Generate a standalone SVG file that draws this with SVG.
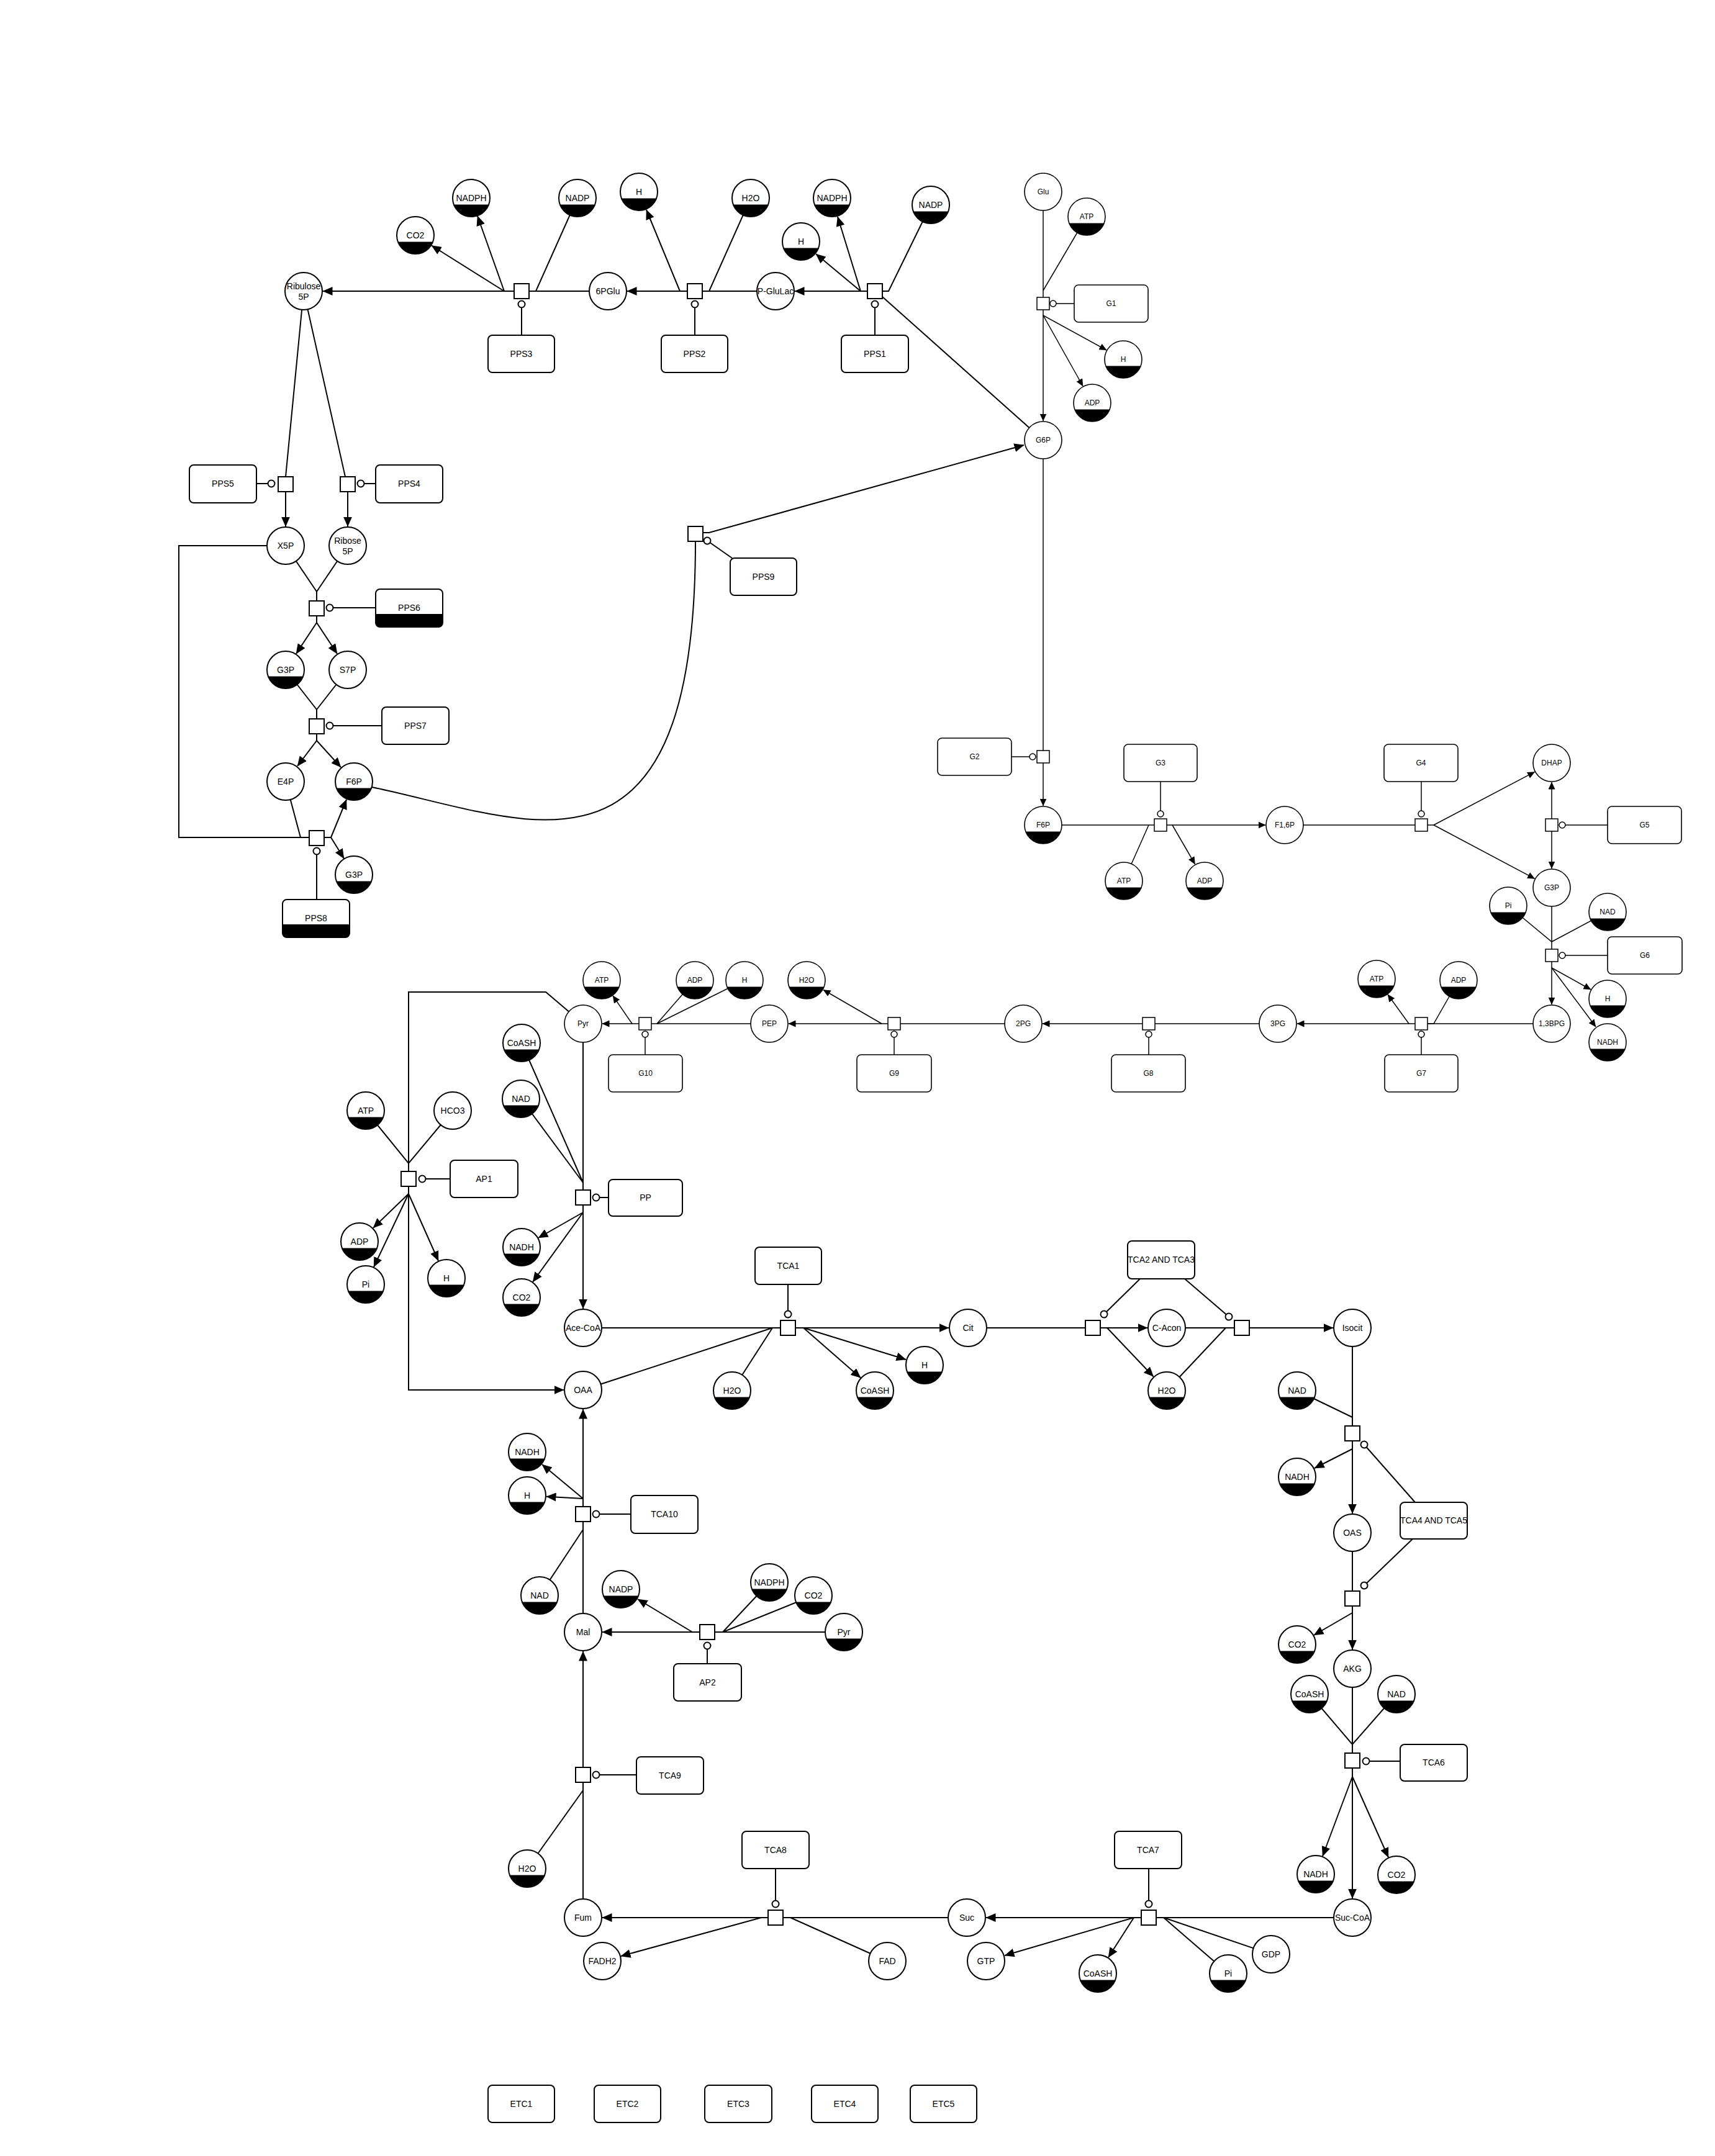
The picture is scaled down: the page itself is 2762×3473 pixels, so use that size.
<svg xmlns="http://www.w3.org/2000/svg" xmlns:xlink="http://www.w3.org/1999/xlink" width="2762" height="3473" viewBox="0 0 2762 3473">
<style>
.ln path{fill:none;stroke:#000;stroke-width:2}
.ln path.g{stroke-width:1.5}
.ar{marker-end:url(#A)}
.as{marker-end:url(#S)}
.mo{marker-end:url(#M)}
.mg{marker-end:url(#Mg)}
.sq{fill:#fff;stroke:#000;stroke-width:2}
.sqg{fill:#fff;stroke:#000;stroke-width:1.5}
.rc{fill:#fff;stroke:#000;stroke-width:2}
.rg{fill:#fff;stroke:#000;stroke-width:1.6}
text{font-family:"Liberation Sans",Arial,sans-serif;font-size:14px;text-anchor:middle;fill:#000}
text.g{font-size:12px}
</style>
<defs>
<marker id="A" markerUnits="userSpaceOnUse" markerWidth="16" markerHeight="14" refX="15.5" refY="7" orient="auto"><path d="M0,0L16,7L0,14Z" fill="#000"/></marker>
<marker id="S" markerUnits="userSpaceOnUse" markerWidth="12" markerHeight="11" refX="11.5" refY="5.5" orient="auto"><path d="M0,0L12,5.5L0,11Z" fill="#000"/></marker>
<marker id="M" markerUnits="userSpaceOnUse" markerWidth="16" markerHeight="16" refX="8" refY="8" orient="auto"><circle cx="8" cy="8" r="5.5" fill="#fff" stroke="#000" stroke-width="2"/></marker>
<marker id="Mg" markerUnits="userSpaceOnUse" markerWidth="16" markerHeight="16" refX="8" refY="8" orient="auto"><circle cx="8" cy="8" r="5" fill="#fff" stroke="#000" stroke-width="1.5"/></marker>
<g id="hc"><circle r="30" fill="#fff"/><path d="M-28.1,10.5A30,30 0 0 0 28.1,10.5Z" fill="#000"/><circle r="30" fill="none" stroke="#000" stroke-width="2"/></g>
<g id="wc"><circle r="30" fill="#fff" stroke="#000" stroke-width="2"/></g>
<g id="hcg"><circle r="30" fill="#fff"/><path d="M-28.1,10.5A30,30 0 0 0 28.1,10.5Z" fill="#000"/><circle r="30" fill="none" stroke="#000" stroke-width="1.6"/></g>
<g id="wcg"><circle r="30" fill="#fff" stroke="#000" stroke-width="1.6"/></g>
</defs>
<rect width="2762" height="3473" fill="#fff"/>

<g id="connectors" class="ln">
<!-- PPS3 -->
<path class="ar" d="M828,469H520"/>
<path d="M979,469H852"/>
<path class="ar" d="M812,469L695,395.5"/>
<path class="ar" d="M812,469L769,348"/>
<path d="M930,319L863,469H852"/>
<!-- PPS2 -->
<path class="ar" d="M1107,469H1010"/>
<path d="M1249,469H1131"/>
<path class="ar" d="M1095,469L1041,338"/>
<path d="M1209,319L1142,469H1131"/>
<!-- PPS1 -->
<path class="ar" d="M1397,469H1280"/>
<path class="ar" d="M1386,469L1314,409"/>
<path class="ar" d="M1386,469L1349,349"/>
<path d="M1499,330L1431,469H1421"/>
<path d="M1680,709L1421,478"/>
<!-- G1 -->
<path class="g" d="M1680,309V479"/>
<path class="g" d="M1750,349L1680,468"/>
<path class="g as" d="M1680,499V678"/>
<path class="g as" d="M1680,508L1782,564"/>
<path class="g as" d="M1680,508L1744,622"/>
<!-- PPS9 -->
<path d="M599,1268C850,1320 1120,1460 1120,872"/>
<path class="ar" d="M1132,858H1142L1649,717"/>
<!-- PPS5 / PPS4 -->
<path d="M489,469L460,768"/>
<path d="M489,469L556,768"/>
<path class="ar" d="M460,792V848"/>
<path class="ar" d="M560,792V848"/>
<!-- PPS6 -->
<path d="M460,879L510,953L560,879M510,953V968"/>
<path d="M510,992V1003"/>
<path class="ar" d="M510,1003L477,1053"/>
<path class="ar" d="M510,1003L543,1053"/>
<!-- PPS7 -->
<path d="M460,1079L510,1143L560,1079M510,1143V1158"/>
<path d="M510,1182V1193"/>
<path class="ar" d="M510,1193L479,1234"/>
<path class="ar" d="M510,1193L549,1236"/>
<!-- PPS8 -->
<path d="M460,1259L484,1349H498"/>
<path d="M460,879H288V1349H484"/>
<path d="M522,1349H533"/>
<path class="ar" d="M533,1349L558,1288"/>
<path class="ar" d="M533,1349L554,1383"/>
<!-- G2 -->
<path class="g" d="M1680,709V1209"/>
<path class="g as" d="M1680,1229V1298"/>
<!-- G3 -->
<path class="g" d="M1680,1329H1859"/>
<path class="g" d="M1810,1419L1850,1329"/>
<path class="g as" d="M1879,1329H2038"/>
<path class="g as" d="M1888,1329L1924.5,1392"/>
<!-- G4 -->
<path class="g" d="M2069,1329H2279"/>
<path class="g" d="M2299,1329H2309"/>
<path class="g as" d="M2309,1329L2471.6,1243.4"/>
<path class="g as" d="M2309,1329L2471.6,1415.4"/>
<!-- G5 -->
<path class="g as" d="M2499,1319V1260"/>
<path class="g as" d="M2499,1339V1399"/>
<!-- G6 -->
<path class="g" d="M2499,1430V1529"/>
<path class="g" d="M2429,1459L2499,1517L2589,1469"/>
<path class="g as" d="M2499,1549V1618"/>
<path class="g as" d="M2499,1559L2562,1594"/>
<path class="g as" d="M2499,1559L2570,1654"/>
<!-- G7 -->
<path class="g" d="M2499,1649H2299"/>
<path class="g" d="M2349,1579L2309,1649H2299"/>
<path class="g as" d="M2279,1649H2089"/>
<path class="g as" d="M2269,1649L2235,1602"/>
<!-- G8 -->
<path class="g" d="M2058,1649H1860"/>
<path class="g as" d="M1840,1649H1679"/>
<!-- G9 -->
<path class="g" d="M1648,1649H1450"/>
<path class="g as" d="M1430,1649H1270"/>
<path class="g as" d="M1420,1649L1326,1594.5"/>
<!-- G10 -->
<path class="g" d="M1239,1649H1049"/>
<path class="g" d="M1119,1579L1058,1649"/>
<path class="g" d="M1199,1579L1058,1649"/>
<path class="g as" d="M1029,1649H970"/>
<path class="g as" d="M1018,1649L987,1604"/>
<!-- AP1 -->
<path d="M939,1649L879,1598H658V1887"/>
<path d="M589,1789L658,1874L729,1789"/>
<path class="ar" d="M658,1911V2239H908"/>
<path class="ar" d="M658,1923L601,1978"/>
<path class="ar" d="M658,1923L602,2041"/>
<path class="ar" d="M658,1923L706,2031"/>
<!-- PP -->
<path d="M939,1649V1917"/>
<path d="M840,1680L939,1905"/>
<path d="M839,1770L939,1905"/>
<path class="ar" d="M939,1941V2108"/>
<path class="ar" d="M939,1953L867,1994"/>
<path class="ar" d="M939,1953L858,2065"/>
<!-- TCA1 -->
<path d="M939,2139H1257"/>
<path d="M939,2239L1244,2139"/>
<path d="M1179,2240L1244,2139"/>
<path class="ar" d="M1281,2139H1528"/>
<path class="ar" d="M1294,2139L1386,2219.5"/>
<path class="ar" d="M1294,2139L1459,2190"/>
<!-- TCA2 / TCA3 -->
<path d="M1559,2139H1748"/>
<path class="ar" d="M1772,2139H1848"/>
<path class="ar" d="M1783,2139L1857.6,2217.5"/>
<path d="M1879,2139H1988"/>
<path d="M1879,2240L1974,2139"/>
<path class="ar" d="M2012,2139H2147"/>
<!-- TCA4 -->
<path d="M2178,2139V2297"/>
<path d="M2089,2240L2178,2283"/>
<path class="ar" d="M2178,2321V2438"/>
<path class="ar" d="M2178,2334L2117,2365"/>
<!-- TCA5 -->
<path d="M2178,2469V2563"/>
<path class="ar" d="M2178,2587V2657"/>
<path class="ar" d="M2178,2598L2116,2634"/>
<!-- TCA6 -->
<path d="M2178,2688V2824"/>
<path d="M2109,2729L2178,2810L2249,2729"/>
<path class="ar" d="M2178,2848V3058"/>
<path class="ar" d="M2178,2862L2130,2990"/>
<path class="ar" d="M2178,2862L2236,2992"/>
<!-- TCA7 -->
<path d="M2178,3089H1862"/>
<path d="M1978,3179L1874,3089"/>
<path d="M2047,3148L1874,3089"/>
<path class="ar" d="M1838,3089H1588"/>
<path class="ar" d="M1826,3089L1618,3150"/>
<path class="ar" d="M1826,3089L1785,3153"/>
<!-- TCA8 -->
<path d="M1557,3089H1261"/>
<path d="M1429,3159L1273,3089"/>
<path class="ar" d="M1237,3089H970"/>
<path class="ar" d="M1226,3089L1000,3151"/>
<!-- TCA9 -->
<path d="M939,3089V2871"/>
<path d="M849,3010L939,2884"/>
<path class="ar" d="M939,2847V2660"/>
<!-- AP2 -->
<path d="M1359,2629H1151"/>
<path d="M1239,2549L1164,2629"/>
<path d="M1310,2570L1164,2629"/>
<path class="ar" d="M1127,2629H970"/>
<path class="ar" d="M1115,2629L1027,2576"/>
<!-- TCA10 -->
<path d="M939,2629V2451"/>
<path d="M869,2570L939,2464"/>
<path class="ar" d="M939,2427V2270"/>
<path class="ar" d="M939,2414L873,2359"/>
<path class="ar" d="M939,2414L880,2410.7"/>
<!-- modulation -->
<path class="mo" d="M840,540V490"/>
<path class="mo" d="M1119,540V490"/>
<path class="mo" d="M1409,540V490"/>
<path class="g mg" d="M1730,489H1696"/>
<path class="mo" d="M1179,899L1139,871"/>
<path class="mo" d="M413,779H437"/>
<path class="mo" d="M605,779H581"/>
<path class="mo" d="M605,979H531"/>
<path class="mo" d="M615,1169H531"/>
<path class="mo" d="M510,1449V1371"/>
<path class="g mg" d="M1629,1219H1663"/>
<path class="g mg" d="M1869,1259V1311"/>
<path class="g mg" d="M2289,1259V1311"/>
<path class="g mg" d="M2589,1329H2516"/>
<path class="g mg" d="M2589,1539H2516"/>
<path class="g mg" d="M2289,1699V1666"/>
<path class="g mg" d="M1850,1699V1666"/>
<path class="g mg" d="M1440,1699V1666"/>
<path class="g mg" d="M1039,1699V1666"/>
<path class="mo" d="M725,1899H680"/>
<path class="mo" d="M980,1929H960"/>
<path class="mo" d="M1269,2069V2117"/>
<path class="mo" d="M1836,2060L1778,2117"/>
<path class="mo" d="M1908,2060L1979,2121"/>
<path class="mo" d="M2279,2420L2197,2327"/>
<path class="mo" d="M2275,2479L2197,2554"/>
<path class="mo" d="M2255,2837H2200"/>
<path class="mo" d="M1850,3010V3067"/>
<path class="mo" d="M1249,3010V3067"/>
<path class="mo" d="M1025,2859H960"/>
<path class="mo" d="M1139,2680V2651"/>
<path class="mo" d="M1016,2439H960"/>
</g>

<g id="processes">
<g id="p_pps3"><rect class="sq" x="828" y="457" width="24" height="24"/></g>
<g id="p_pps2"><rect class="sq" x="1107" y="457" width="24" height="24"/></g>
<g id="p_pps1"><rect class="sq" x="1397" y="457" width="24" height="24"/></g>
<g id="p_g1"><rect class="sqg" x="1670" y="479" width="20" height="20"/></g>
<g id="p_pps9"><rect class="sq" x="1108" y="848" width="24" height="24"/></g>
<g id="p_pps5"><rect class="sq" x="448" y="768" width="24" height="24"/></g>
<g id="p_pps4"><rect class="sq" x="548" y="768" width="24" height="24"/></g>
<g id="p_pps6"><rect class="sq" x="498" y="968" width="24" height="24"/></g>
<g id="p_pps7"><rect class="sq" x="498" y="1158" width="24" height="24"/></g>
<g id="p_pps8"><rect class="sq" x="498" y="1338" width="24" height="24"/></g>
<g id="p_g2"><rect class="sqg" x="1670" y="1209" width="20" height="20"/></g>
<g id="p_g3"><rect class="sqg" x="1859" y="1319" width="20" height="20"/></g>
<g id="p_g4"><rect class="sqg" x="2279" y="1319" width="20" height="20"/></g>
<g id="p_g5"><rect class="sqg" x="2489" y="1319" width="20" height="20"/></g>
<g id="p_g6"><rect class="sqg" x="2489" y="1529" width="20" height="20"/></g>
<g id="p_g7"><rect class="sqg" x="2279" y="1639" width="20" height="20"/></g>
<g id="p_g8"><rect class="sqg" x="1840" y="1639" width="20" height="20"/></g>
<g id="p_g9"><rect class="sqg" x="1430" y="1639" width="20" height="20"/></g>
<g id="p_g10"><rect class="sqg" x="1029" y="1639" width="20" height="20"/></g>
<g id="p_ap1"><rect class="sq" x="646" y="1887" width="24" height="24"/></g>
<g id="p_pp"><rect class="sq" x="927" y="1917" width="24" height="24"/></g>
<g id="p_tca1"><rect class="sq" x="1257" y="2127" width="24" height="24"/></g>
<g id="p_tca2"><rect class="sq" x="1748" y="2127" width="24" height="24"/></g>
<g id="p_tca3"><rect class="sq" x="1988" y="2127" width="24" height="24"/></g>
<g id="p_tca4"><rect class="sq" x="2166" y="2297" width="24" height="24"/></g>
<g id="p_tca5"><rect class="sq" x="2166" y="2563" width="24" height="24"/></g>
<g id="p_tca6"><rect class="sq" x="2166" y="2824" width="24" height="24"/></g>
<g id="p_tca7"><rect class="sq" x="1838" y="3077" width="24" height="24"/></g>
<g id="p_tca8"><rect class="sq" x="1237" y="3077" width="24" height="24"/></g>
<g id="p_tca9"><rect class="sq" x="927" y="2847" width="24" height="24"/></g>
<g id="p_ap2"><rect class="sq" x="1127" y="2617" width="24" height="24"/></g>
<g id="p_tca10"><rect class="sq" x="927" y="2427" width="24" height="24"/></g>
</g>

<g id="enzymes">
<g id="e_pps3"><rect class="rc" x="786" y="540" width="107" height="60" rx="7"/><text x="839.5" y="575">PPS3</text></g>
<g id="e_pps2"><rect class="rc" x="1065" y="540" width="107" height="60" rx="7"/><text x="1118.5" y="575">PPS2</text></g>
<g id="e_pps1"><rect class="rc" x="1355" y="540" width="108" height="60" rx="7"/><text x="1409" y="575">PPS1</text></g>
<g id="e_g1"><rect class="rg" x="1730" y="459" width="119" height="60" rx="7"/><text class="g" x="1789.5" y="493">G1</text></g>
<g id="e_pps9"><rect class="rc" x="1176" y="899" width="107" height="60" rx="7"/><text x="1229.5" y="934">PPS9</text></g>
<g id="e_pps5"><rect class="rc" x="305" y="749" width="108" height="61" rx="7"/><text x="359" y="784">PPS5</text></g>
<g id="e_pps4"><rect class="rc" x="605" y="749" width="108" height="61" rx="7"/><text x="659" y="784">PPS4</text></g>
<g id="e_pps6"><rect x="605" y="949" width="108" height="61" rx="7" fill="#fff"/><path d="M605,989H713V1003A7,7 0 0 1 706,1010H612A7,7 0 0 1 605,1003Z" fill="#000"/><rect x="605" y="949" width="108" height="61" rx="7" fill="none" stroke="#000" stroke-width="2"/><text x="659" y="984">PPS6</text></g>
<g id="e_pps7"><rect class="rc" x="615" y="1139" width="108" height="60" rx="7"/><text x="669" y="1174">PPS7</text></g>
<g id="e_pps8"><rect x="455" y="1449" width="108" height="61" rx="7" fill="#fff"/><path d="M455,1489H563V1503A7,7 0 0 1 556,1510H462A7,7 0 0 1 455,1503Z" fill="#000"/><rect x="455" y="1449" width="108" height="61" rx="7" fill="none" stroke="#000" stroke-width="2"/><text x="509" y="1484">PPS8</text></g>
<g id="e_g2"><rect class="rg" x="1510" y="1189" width="119" height="60" rx="7"/><text class="g" x="1569.5" y="1223">G2</text></g>
<g id="e_g3"><rect class="rg" x="1810" y="1199" width="118" height="60" rx="7"/><text class="g" x="1869" y="1233">G3</text></g>
<g id="e_g4"><rect class="rg" x="2229" y="1199" width="119" height="60" rx="7"/><text class="g" x="2288.5" y="1233">G4</text></g>
<g id="e_g5"><rect class="rg" x="2589" y="1299" width="119" height="60" rx="7"/><text class="g" x="2648.5" y="1333">G5</text></g>
<g id="e_g6"><rect class="rg" x="2589" y="1509" width="120" height="60" rx="7"/><text class="g" x="2649" y="1543">G6</text></g>
<g id="e_g7"><rect class="rg" x="2230" y="1699" width="118" height="60" rx="7"/><text class="g" x="2289" y="1733">G7</text></g>
<g id="e_g8"><rect class="rg" x="1790" y="1699" width="119" height="60" rx="7"/><text class="g" x="1849.5" y="1733">G8</text></g>
<g id="e_g9"><rect class="rg" x="1380" y="1699" width="120" height="60" rx="7"/><text class="g" x="1440" y="1733">G9</text></g>
<g id="e_g10"><rect class="rg" x="980" y="1699" width="119" height="60" rx="7"/><text class="g" x="1039.5" y="1733">G10</text></g>
<g id="e_ap1"><rect class="rc" x="725" y="1869" width="109" height="60" rx="7"/><text x="779.5" y="1904">AP1</text></g>
<g id="e_pp"><rect class="rc" x="980" y="1900" width="119" height="59" rx="7"/><text x="1039.5" y="1934">PP</text></g>
<g id="e_tca1"><rect class="rc" x="1216" y="2009" width="107" height="60" rx="7"/><text x="1269.5" y="2044">TCA1</text></g>
<g id="e_tca23"><rect class="rc" x="1816" y="1999" width="108" height="61" rx="7"/><text x="1870" y="2034">TCA2 AND TCA3</text></g>
<g id="e_tca45"><rect class="rc" x="2255" y="2420" width="108" height="59" rx="7"/><text x="2309" y="2454">TCA4 AND TCA5</text></g>
<g id="e_tca6"><rect class="rc" x="2255" y="2810" width="108" height="59" rx="7"/><text x="2309" y="2844">TCA6</text></g>
<g id="e_tca7"><rect class="rc" x="1795" y="2950" width="108" height="60" rx="7"/><text x="1849" y="2985">TCA7</text></g>
<g id="e_tca8"><rect class="rc" x="1195" y="2950" width="108" height="60" rx="7"/><text x="1249" y="2985">TCA8</text></g>
<g id="e_tca9"><rect class="rc" x="1025" y="2830" width="108" height="60" rx="7"/><text x="1079" y="2865">TCA9</text></g>
<g id="e_tca10"><rect class="rc" x="1016" y="2409" width="108" height="61" rx="7"/><text x="1070" y="2444">TCA10</text></g>
<g id="e_ap2"><rect class="rc" x="1085" y="2680" width="109" height="60" rx="7"/><text x="1139.5" y="2715">AP2</text></g>
<g id="e_etc1"><rect class="rc" x="786" y="3359" width="107" height="60" rx="7"/><text x="839.5" y="3394">ETC1</text></g>
<g id="e_etc2"><rect class="rc" x="957" y="3359" width="107" height="60" rx="7"/><text x="1010.5" y="3394">ETC2</text></g>
<g id="e_etc3"><rect class="rc" x="1135" y="3359" width="108" height="60" rx="7"/><text x="1189" y="3394">ETC3</text></g>
<g id="e_etc4"><rect class="rc" x="1307" y="3359" width="107" height="60" rx="7"/><text x="1360.5" y="3394">ETC4</text></g>
<g id="e_etc5"><rect class="rc" x="1466" y="3359" width="107" height="60" rx="7"/><text x="1519.5" y="3394">ETC5</text></g>
</g>

<g id="species">
<g id="s_ribulose5p" transform="translate(489,469)"><use href="#wc"/><text><tspan x="0" y="-3">Ribulose</tspan><tspan x="0" y="14">5P</tspan></text></g>
<g id="s_6pglu" transform="translate(979,469)"><use href="#wc"/><text y="5">6PGlu</text></g>
<g id="s_pglulac" transform="translate(1249,469)"><use href="#wc"/><text y="5">P-GluLac</text></g>
<g id="s_co2_a" transform="translate(669,379)"><use href="#hc"/><text y="5">CO2</text></g>
<g id="s_nadph_a" transform="translate(759,319)"><use href="#hc"/><text y="5">NADPH</text></g>
<g id="s_nadp_a" transform="translate(930,319)"><use href="#hc"/><text y="5">NADP</text></g>
<g id="s_h_a" transform="translate(1029,309)"><use href="#hc"/><text y="5">H</text></g>
<g id="s_h2o_a" transform="translate(1209,319)"><use href="#hc"/><text y="5">H2O</text></g>
<g id="s_nadph_b" transform="translate(1340,319)"><use href="#hc"/><text y="5">NADPH</text></g>
<g id="s_h_b" transform="translate(1290,389)"><use href="#hc"/><text y="5">H</text></g>
<g id="s_nadp_b" transform="translate(1499,330)"><use href="#hc"/><text y="5">NADP</text></g>
<g id="s_glu" transform="translate(1680,309)"><use href="#wcg"/><text class="g" y="4">Glu</text></g>
<g id="s_atp_g1" transform="translate(1750,349)"><use href="#hcg"/><text class="g" y="4">ATP</text></g>
<g id="s_h_g1" transform="translate(1809,579)"><use href="#hcg"/><text class="g" y="4">H</text></g>
<g id="s_adp_g1" transform="translate(1759,649)"><use href="#hcg"/><text class="g" y="4">ADP</text></g>
<g id="s_g6p" transform="translate(1680,709)"><use href="#wcg"/><text class="g" y="4">G6P</text></g>
<g id="s_x5p" transform="translate(460,879)"><use href="#wc"/><text y="5">X5P</text></g>
<g id="s_ribose5p" transform="translate(560,879)"><use href="#wc"/><text><tspan x="0" y="-3">Ribose</tspan><tspan x="0" y="14">5P</tspan></text></g>
<g id="s_g3p_a" transform="translate(460,1079)"><use href="#hc"/><text y="5">G3P</text></g>
<g id="s_s7p" transform="translate(560,1079)"><use href="#wc"/><text y="5">S7P</text></g>
<g id="s_e4p" transform="translate(460,1259)"><use href="#wc"/><text y="5">E4P</text></g>
<g id="s_f6p_a" transform="translate(570,1259)"><use href="#hc"/><text y="5">F6P</text></g>
<g id="s_g3p_b" transform="translate(570,1409)"><use href="#hc"/><text y="5">G3P</text></g>
<g id="s_f6p_b" transform="translate(1680,1329)"><use href="#hcg"/><text class="g" y="4">F6P</text></g>
<g id="s_atp_g3" transform="translate(1810,1419)"><use href="#hcg"/><text class="g" y="4">ATP</text></g>
<g id="s_adp_g3" transform="translate(1940,1419)"><use href="#hcg"/><text class="g" y="4">ADP</text></g>
<g id="s_f16p" transform="translate(2069,1329)"><use href="#wcg"/><text class="g" y="4">F1,6P</text></g>
<g id="s_dhap" transform="translate(2499,1229)"><use href="#wcg"/><text class="g" y="4">DHAP</text></g>
<g id="s_g3p_c" transform="translate(2499,1430)"><use href="#wcg"/><text class="g" y="4">G3P</text></g>
<g id="s_pi_g6" transform="translate(2429,1459)"><use href="#hcg"/><text class="g" y="4">Pi</text></g>
<g id="s_nad_g6" transform="translate(2589,1469)"><use href="#hcg"/><text class="g" y="4">NAD</text></g>
<g id="s_h_g6" transform="translate(2589,1609)"><use href="#hcg"/><text class="g" y="4">H</text></g>
<g id="s_nadh_g6" transform="translate(2589,1679)"><use href="#hcg"/><text class="g" y="4">NADH</text></g>
<g id="s_13bpg" transform="translate(2499,1649)"><use href="#wcg"/><text class="g" y="4">1,3BPG</text></g>
<g id="s_atp_g7" transform="translate(2217,1577)"><use href="#hcg"/><text class="g" y="4">ATP</text></g>
<g id="s_adp_g7" transform="translate(2349,1579)"><use href="#hcg"/><text class="g" y="4">ADP</text></g>
<g id="s_3pg" transform="translate(2058,1649)"><use href="#wcg"/><text class="g" y="4">3PG</text></g>
<g id="s_2pg" transform="translate(1648,1649)"><use href="#wcg"/><text class="g" y="4">2PG</text></g>
<g id="s_h2o_g9" transform="translate(1299,1579)"><use href="#hcg"/><text class="g" y="4">H2O</text></g>
<g id="s_pep" transform="translate(1239,1649)"><use href="#wcg"/><text class="g" y="4">PEP</text></g>
<g id="s_atp_g10" transform="translate(969,1579)"><use href="#hcg"/><text class="g" y="4">ATP</text></g>
<g id="s_adp_g10" transform="translate(1119,1579)"><use href="#hcg"/><text class="g" y="4">ADP</text></g>
<g id="s_h_g10" transform="translate(1199,1579)"><use href="#hcg"/><text class="g" y="4">H</text></g>
<g id="s_pyr_a" transform="translate(939,1649)"><use href="#wcg"/><text class="g" y="4">Pyr</text></g>
<g id="s_atp_ap1" transform="translate(589,1789)"><use href="#hc"/><text y="5">ATP</text></g>
<g id="s_hco3" transform="translate(729,1789)"><use href="#wc"/><text y="5">HCO3</text></g>
<g id="s_adp_ap1" transform="translate(579,2000)"><use href="#hc"/><text y="5">ADP</text></g>
<g id="s_pi_ap1" transform="translate(589,2069)"><use href="#hc"/><text y="5">Pi</text></g>
<g id="s_h_ap1" transform="translate(719,2059)"><use href="#hc"/><text y="5">H</text></g>
<g id="s_coash_pp" transform="translate(840,1680)"><use href="#hc"/><text y="5">CoASH</text></g>
<g id="s_nad_pp" transform="translate(839,1770)"><use href="#hc"/><text y="5">NAD</text></g>
<g id="s_nadh_pp" transform="translate(840,2009)"><use href="#hc"/><text y="5">NADH</text></g>
<g id="s_co2_pp" transform="translate(840,2090)"><use href="#hc"/><text y="5">CO2</text></g>
<g id="s_acecoa" transform="translate(939,2139)"><use href="#wc"/><text y="5">Ace-CoA</text></g>
<g id="s_oaa" transform="translate(939,2239)"><use href="#wc"/><text y="5">OAA</text></g>
<g id="s_h2o_tca1" transform="translate(1179,2240)"><use href="#hc"/><text y="5">H2O</text></g>
<g id="s_coash_tca1" transform="translate(1409,2240)"><use href="#hc"/><text y="5">CoASH</text></g>
<g id="s_h_tca1" transform="translate(1489,2199)"><use href="#hc"/><text y="5">H</text></g>
<g id="s_cit" transform="translate(1559,2139)"><use href="#wc"/><text y="5">Cit</text></g>
<g id="s_cacon" transform="translate(1879,2139)"><use href="#wc"/><text y="5">C-Acon</text></g>
<g id="s_h2o_tca2" transform="translate(1879,2240)"><use href="#hc"/><text y="5">H2O</text></g>
<g id="s_isocit" transform="translate(2178,2139)"><use href="#wc"/><text y="5">Isocit</text></g>
<g id="s_nad_tca4" transform="translate(2089,2240)"><use href="#hc"/><text y="5">NAD</text></g>
<g id="s_nadh_tca4" transform="translate(2089,2379)"><use href="#hc"/><text y="5">NADH</text></g>
<g id="s_oas" transform="translate(2178,2469)"><use href="#wc"/><text y="5">OAS</text></g>
<g id="s_co2_tca5" transform="translate(2089,2649)"><use href="#hc"/><text y="5">CO2</text></g>
<g id="s_akg" transform="translate(2178,2688)"><use href="#wc"/><text y="5">AKG</text></g>
<g id="s_coash_tca6" transform="translate(2109,2729)"><use href="#hc"/><text y="5">CoASH</text></g>
<g id="s_nad_tca6" transform="translate(2249,2729)"><use href="#hc"/><text y="5">NAD</text></g>
<g id="s_nadh_tca6" transform="translate(2119,3019)"><use href="#hc"/><text y="5">NADH</text></g>
<g id="s_co2_tca6" transform="translate(2249,3020)"><use href="#hc"/><text y="5">CO2</text></g>
<g id="s_succoa" transform="translate(2178,3089)"><use href="#wc"/><text y="5">Suc-CoA</text></g>
<g id="s_suc" transform="translate(1557,3089)"><use href="#wc"/><text y="5">Suc</text></g>
<g id="s_gtp" transform="translate(1588,3159)"><use href="#wc"/><text y="5">GTP</text></g>
<g id="s_coash_tca7" transform="translate(1768,3179)"><use href="#hc"/><text y="5">CoASH</text></g>
<g id="s_pi_tca7" transform="translate(1978,3179)"><use href="#hc"/><text y="5">Pi</text></g>
<g id="s_gdp" transform="translate(2047,3148)"><use href="#wc"/><text y="5">GDP</text></g>
<g id="s_fum" transform="translate(939,3089)"><use href="#wc"/><text y="5">Fum</text></g>
<g id="s_fadh2" transform="translate(970,3159)"><use href="#wc"/><text y="5">FADH2</text></g>
<g id="s_fad" transform="translate(1429,3159)"><use href="#wc"/><text y="5">FAD</text></g>
<g id="s_h2o_tca9" transform="translate(849,3010)"><use href="#hc"/><text y="5">H2O</text></g>
<g id="s_mal" transform="translate(939,2629)"><use href="#wc"/><text y="5">Mal</text></g>
<g id="s_nadp_ap2" transform="translate(1000,2560)"><use href="#hc"/><text y="5">NADP</text></g>
<g id="s_nadph_ap2" transform="translate(1239,2549)"><use href="#hc"/><text y="5">NADPH</text></g>
<g id="s_co2_ap2" transform="translate(1310,2570)"><use href="#hc"/><text y="5">CO2</text></g>
<g id="s_pyr_b" transform="translate(1359,2629)"><use href="#hc"/><text y="5">Pyr</text></g>
<g id="s_nadh_tca10" transform="translate(849,2339)"><use href="#hc"/><text y="5">NADH</text></g>
<g id="s_h_tca10" transform="translate(849,2409)"><use href="#hc"/><text y="5">H</text></g>
<g id="s_nad_tca10" transform="translate(869,2570)"><use href="#hc"/><text y="5">NAD</text></g>
</g>
</svg>
